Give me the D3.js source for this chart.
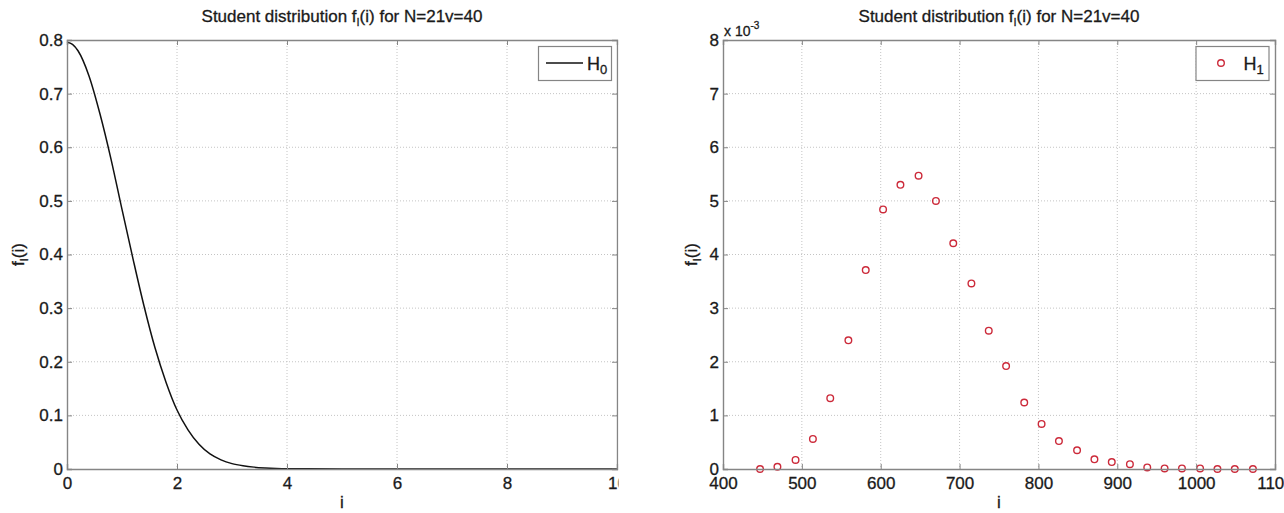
<!DOCTYPE html>
<html><head><meta charset="utf-8">
<script src="https://cdn.jsdelivr.net/npm/d3@7"></script>
<style>
html,body{margin:0;padding:0;background:#fff;}
svg{display:block;font-family:"Liberation Sans",Arial,Helvetica,sans-serif;}
svg text{stroke:#1a1a1a;stroke-width:0.3px;}
</style></head>
<body>
<svg id="chart" width="1284" height="513"></svg>
<script>
// ---- data ----
const titleText = "Student distribution f";
const h0X = [0,0.1,0.2,0.4,0.6,0.8,1.0,1.2,1.4,1.6,1.8,2.0,2.2,2.4,2.6,2.8,3.0,3.2,3.4,3.6,3.8,4.0,5,6,7,8,9,10];
const h0Y = [0.796,0.792,0.780,0.733,0.662,0.578,0.484,0.392,0.304,0.226,0.162,0.110,0.073,0.046,0.028,0.017,0.010,0.006,0.0035,0.002,0.001,0.0005,0.0001,0,0,0,0,0];
const h0XTicks = [0,2,4,6,8,10];
const h0YTicks = [0,0.1,0.2,0.3,0.4,0.5,0.6,0.7,0.8];

const h1X = [447,469,492,514,536,559,581,603,625,648,670,692,715,737,759,782,804,826,849,871,893,916,938,960,982,1005,1027,1049,1072];
const h1Y = [0.00,0.04,0.17,0.56,1.32,2.40,3.71,4.84,5.30,5.47,5.00,4.21,3.46,2.58,1.92,1.24,0.84,0.52,0.35,0.18,0.13,0.09,0.03,0.01,0.01,0.01,0.00,0.00,0.00];
const h1XTicks = [400,500,600,700,800,900,1000,1100];
const h1YTicks = [0,1,2,3,4,5,6,7,8];

const svg = d3.select("#chart");
svg.append("rect").attr("width",1284).attr("height",513).attr("fill","#fff");
svg.append("defs").append("clipPath").attr("id","leftclip")
  .append("rect").attr("x",0).attr("y",0).attr("width",618.5).attr("height",513);

const AX = "#858585";
const FONT = "'Liberation Sans',Arial,sans-serif";
function panel(g, o){
  const x = d3.scaleLinear().domain(o.xd).range([o.l,o.r]);
  const y = d3.scaleLinear().domain(o.yd).range([o.b,o.t]);
  // grid
  const grid = g.append("g");
  o.xt.forEach(v=>{ if(v!==o.xd[0]&&v!==o.xd[1]) grid.append("line").attr("x1",x(v)).attr("x2",x(v)).attr("y1",o.t).attr("y2",o.b)
      .attr("stroke","#c4c4c4").attr("stroke-width",1).attr("stroke-dasharray","1,2");});
  o.yt.forEach(v=>{ if(v!==o.yd[0]&&v!==o.yd[1]) grid.append("line").attr("y1",y(v)).attr("y2",y(v)).attr("x1",o.l).attr("x2",o.r)
      .attr("stroke","#c4c4c4").attr("stroke-width",1).attr("stroke-dasharray","1,2");});
  // data
  o.draw(g,x,y);
  // axes
  const xa = d3.axisBottom(x).tickValues(o.xt).tickSize(-5).tickPadding(7.5).tickFormat(o.xf||d3.format(""));
  const ya = d3.axisLeft(y).tickValues(o.yt).tickSize(-5).tickPadding(4).tickFormat(o.yf||d3.format(""));
  const gx = g.append("g").attr("transform",`translate(0,${o.b})`).call(xa);
  const gy = g.append("g").attr("transform",`translate(${o.l},0)`).call(ya);
  const gx2 = g.append("g").attr("transform",`translate(0,${o.t})`).call(d3.axisTop(x).tickValues(o.xt).tickSize(-5).tickFormat(""));
  const gy2 = g.append("g").attr("transform",`translate(${o.r},0)`).call(d3.axisRight(y).tickValues(o.yt).tickSize(-5).tickFormat(""));
  [gx,gy,gx2,gy2].forEach(a=>{
    a.selectAll(".domain").attr("stroke",AX).attr("stroke-width",1.4);
    a.selectAll(".tick line").attr("stroke",AX).attr("stroke-width",1);
    a.selectAll("text").attr("fill","#1a1a1a").style("font-size","17px").style("font-family",FONT);
  });
  // title
  const tt = g.append("text").attr("x",(o.l+o.r)/2).attr("y",22).attr("text-anchor","middle")
    .style("font-size","17px").attr("fill","#1a1a1a");
  tt.append("tspan").text(titleText);
  tt.append("tspan").attr("dy",4).style("font-size","11px").text("I");
  tt.append("tspan").attr("dy",-4).text("(i) for N=21v=40");
  // x label
  g.append("text").attr("x",(o.l+o.r)/2).attr("y",508).attr("text-anchor","middle").style("font-size","17px").attr("fill","#1a1a1a").text("i");
  // y label
  const yl = g.append("text").attr("transform",`translate(${o.yl},${(o.t+o.b)/2}) rotate(-90)`).attr("text-anchor","middle")
    .style("font-size","17px").attr("fill","#1a1a1a");
  yl.append("tspan").text("f");
  yl.append("tspan").attr("dy",4).style("font-size","11px").text("I");
  yl.append("tspan").attr("dy",-4).text("(i)");
  return {x,y};
}

// left panel
const gl = svg.append("g").attr("clip-path","url(#leftclip)");
panel(gl,{l:67,r:617,t:40,b:469,xd:[0,10],yd:[0,0.8],xt:h0XTicks,yt:h0YTicks,yl:24,
  yf:v=>v===0?"0":d3.format(".1f")(v), xf:d3.format("d"),
  draw:(g,x,y)=>{
    g.append("path").datum(h0X.map((v,i)=>[v,h0Y[i]]))
      .attr("d",d3.line().x(d=>x(d[0])).y(d=>y(d[1])).curve(d3.curveMonotoneX))
      .attr("fill","none").attr("stroke","#111").attr("stroke-width",1.5);
  }});
// legend left
const ll = gl.append("g");
ll.append("rect").attr("x",538.5).attr("y",46.5).attr("width",73).attr("height",34).attr("fill","#fff").attr("stroke",AX).attr("stroke-width",1.2);
ll.append("line").attr("x1",546).attr("x2",583).attr("y1",63).attr("y2",63).attr("stroke","#111").attr("stroke-width",1.5);
const lt0 = ll.append("text").attr("x",587).attr("y",70).style("font-size","18px").attr("fill","#1a1a1a");
lt0.append("tspan").text("H");
lt0.append("tspan").attr("dy",4).style("font-size","13px").text("0");

// right panel
const gr = svg.append("g");
panel(gr,{l:723,r:1275,t:40,b:469,xd:[400,1100],yd:[0,8],xt:h1XTicks,yt:h1YTicks,yl:697,
  draw:(g,x,y)=>{
    g.selectAll("circle.pt").data(h1X.map((v,i)=>[v,h1Y[i]])).enter().append("circle")
      .attr("cx",d=>x(d[0])).attr("cy",d=>y(d[1])).attr("r",3.3)
      .attr("fill","none").attr("stroke","#cc2a3a").attr("stroke-width",1.4);
  }});
const ex = gr.append("text").attr("x",724).attr("y",36).style("font-size","14px").attr("fill","#1a1a1a");
ex.append("tspan").text("x 10");
ex.append("tspan").attr("dy",-7).style("font-size","10px").text("-3");
// legend right
const lr = gr.append("g");
lr.append("rect").attr("x",1196).attr("y",46.5).attr("width",73).attr("height",34).attr("fill","#fff").attr("stroke",AX).attr("stroke-width",1.2);
lr.append("circle").attr("cx",1221).attr("cy",63).attr("r",3.3).attr("fill","none").attr("stroke","#cc2a3a").attr("stroke-width",1.4);
const lt1 = lr.append("text").attr("x",1243.5).attr("y",70).style("font-size","18px").attr("fill","#1a1a1a");
lt1.append("tspan").text("H");
lt1.append("tspan").attr("dy",4).style("font-size","13px").text("1");
</script>
</body></html>
